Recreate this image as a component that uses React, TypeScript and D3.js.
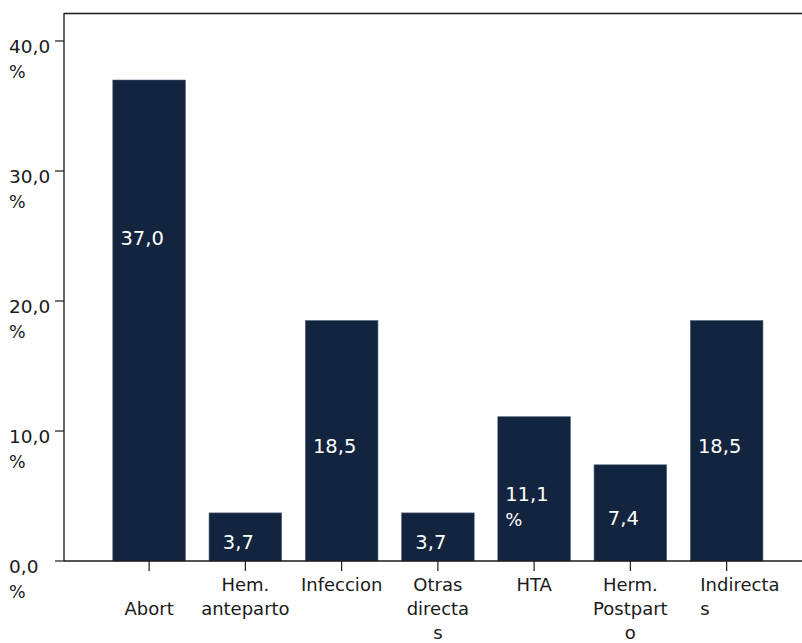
import React from "react";
import * as d3 from "d3";

// Causes of maternal death, share of cases (%)
const categoryLines: string[][] = [
  ["", "Abort"],
  ["Hem.", "anteparto"],
  ["Infeccion"],
  ["Otras", "directa", "s"],
  ["HTA"],
  ["Herm.", "Postpart", "o"],
  ["Indirecta", "s"],
];
const categoryKeys = ["Abort", "HemAnte", "Infeccion", "Otras", "HTA", "HermPost", "Indirectas"];
const values = [37.0, 3.7, 18.5, 3.7, 11.1, 7.4, 18.5];
const percentOnLabel = [false, false, false, false, true, false, false];
const yTicks = [0, 10, 20, 30, 40];

const W = 802;
const H = 643;
const FONT = "'DejaVu Sans', Verdana, sans-serif";
const BAR = "#13243f";
const INK = "#1a1a1a";

const fmt = (v: number) => v.toFixed(1).replace(".", ",");

export default function App() {
  const left = 64;
  const top = 13;
  const bottom = 561;

  const y = d3.scaleLinear().domain([0, 40]).range([bottom, 41]);
  const x = d3
    .scaleBand<string>()
    .domain(categoryKeys)
    .range([101, 774.75])
    .paddingInner(0.245)
    .paddingOuter(0.1225);

  const bw = x.bandwidth();

  return (
    <svg
      width={W}
      height={H}
      style={{ position: "absolute", left: 0, top: 0, background: "#fff" }}
      fontFamily={FONT}
    >
      {/* bars */}
      {categoryKeys.map((k, i) => (
        <rect
          key={k}
          x={x(k)!}
          y={y(values[i])}
          width={bw}
          height={bottom - y(values[i])}
          fill={BAR}
          stroke="#56667c"
          strokeWidth={0.6}
        />
      ))}

      {/* value labels inside bars */}
      {categoryKeys.map((k, i) => {
        const v = values[i];
        const cx = x(k)! + bw / 2;
        const mid = Math.min(y(v / 2) + 5, y(v) + 158);
        const base = mid + 7;
        if (percentOnLabel[i]) {
          return (
            <text key={k} x={cx - 29} y={base} fill="#fff" fontSize={19.5}>
              <tspan x={cx - 29}>{fmt(v)}</tspan>
              <tspan x={cx - 29} dy={25} fontSize={18}>%</tspan>
            </text>
          );
        }
        return (
          <text key={k} x={cx - 7} y={base} fill="#fff" fontSize={19.5} textAnchor="middle">
            {fmt(v)}
          </text>
        );
      })}

      {/* frame */}
      <line x1={left} x2={left} y1={top} y2={bottom} stroke={INK} strokeWidth={1.3} />
      <line x1={left} x2={W} y1={top + 0.5} y2={top + 0.5} stroke={INK} strokeWidth={1.3} />
      <line x1={left} x2={W} y1={bottom} y2={bottom} stroke={INK} strokeWidth={1.3} />

      {/* y axis */}
      {yTicks.map((t) => (
        <g key={t}>
          <line x1={55} x2={left} y1={y(t)} y2={y(t)} stroke={INK} strokeWidth={1.2} />
          <text x={9} y={y(t) + 12} fontSize={18.5} fill={INK}>
            {fmt(t)}
          </text>
          <text x={9} y={y(t) + 37} fontSize={17.5} fill={INK}>
            %
          </text>
        </g>
      ))}

      {/* x axis */}
      {categoryKeys.map((k, i) => {
        const cx = x(k)! + bw / 2;
        const last = i === categoryKeys.length - 1;
        return (
          <g key={k}>
            <line x1={cx} x2={cx} y1={bottom} y2={bottom + 10} stroke={INK} strokeWidth={1.2} />
            <text
              fontSize={18}
              fill={INK}
              textAnchor={last ? "start" : "middle"}
            >
              {categoryLines[i].map((ln, j) => (
                <tspan key={j} x={last ? x(k)! + 10 : cx} y={591 + j * 24}>
                  {ln}
                </tspan>
              ))}
            </text>
          </g>
        );
      })}
    </svg>
  );
}
